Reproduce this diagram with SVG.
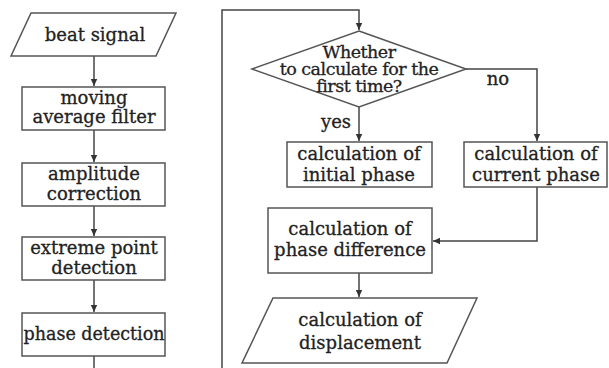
<svg xmlns="http://www.w3.org/2000/svg" width="609" height="368" viewBox="0 0 609 368">
<defs>
<marker id="ah" markerWidth="8" markerHeight="8" refX="7" refY="4" orient="auto" markerUnits="userSpaceOnUse">
<path d="M0,0.8 L7,4 L0,7.2 Z" fill="#333"/>
</marker>
<style>
.s{fill:#fff;stroke:#555;stroke-width:1.5}
.c{fill:none;stroke:#444;stroke-width:1.5}
text{font-family:"DejaVu Serif","Liberation Serif",serif;font-size:18px;fill:#222;stroke:#222;stroke-width:0.3;text-anchor:middle}
.d{font-size:17.5px;letter-spacing:-0.5px}
</style>
</defs>
<rect width="609" height="368" fill="#fff"/>
<g id="connectors">
<line class="c" x1="94" y1="56" x2="94" y2="86" marker-end="url(#ah)"/>
<line class="c" x1="94" y1="130" x2="94" y2="162" marker-end="url(#ah)"/>
<line class="c" x1="94" y1="206" x2="94" y2="236" marker-end="url(#ah)"/>
<line class="c" x1="94" y1="280" x2="94" y2="312" marker-end="url(#ah)"/>
<line class="c" x1="94" y1="356" x2="94" y2="368"/>
<polyline class="c" points="222,368 222,10 359,10 359,30" marker-end="url(#ah)"/>
<line class="c" x1="359" y1="107" x2="359" y2="141" marker-end="url(#ah)"/>
<polyline class="c" points="466,69 537,69 537,141" marker-end="url(#ah)"/>
<polyline class="c" points="537,187 537,241 433,241" marker-end="url(#ah)"/>
<line class="c" x1="359" y1="273" x2="359" y2="297" marker-end="url(#ah)"/>
<text x="336" y="128">yes</text>
<text x="498" y="85">no</text>
</g>
<g id="beat">
<polygon class="s" points="31,13 176,13 156,56 11,56"/>
<text x="95" y="41">beat signal</text>
</g>
<g id="maf">
<rect class="s" x="22" y="87" width="143" height="43"/>
<text x="94" y="104">moving</text>
<text x="94" y="123">average filter</text>
</g>
<g id="amp">
<rect class="s" x="22" y="163" width="143" height="43"/>
<text x="94" y="180">amplitude</text>
<text x="94" y="200">correction</text>
</g>
<g id="ext">
<rect class="s" x="22" y="237" width="143" height="43"/>
<text x="94" y="254">extreme point</text>
<text x="94" y="274">detection</text>
</g>
<g id="phd">
<rect class="s" x="22" y="313" width="143" height="43"/>
<text x="94" y="340" textLength="141" lengthAdjust="spacingAndGlyphs">phase detection</text>
</g>
<g id="decision">
<polygon class="s" points="359,31 466,69 359,107 252,69"/>
<text class="d" x="359" y="58">Whether</text>
<text class="d" x="359" y="75">to calculate for the</text>
<text class="d" x="359" y="92">first time?</text>
</g>
<g id="initial">
<rect class="s" x="287" y="142" width="145" height="45"/>
<text x="359" y="160">calculation of</text>
<text x="359" y="181">initial phase</text>
</g>
<g id="current">
<rect class="s" x="464" y="142" width="143" height="45"/>
<text x="536" y="160">calculation of</text>
<text x="536" y="181">current phase</text>
</g>
<g id="diff">
<rect class="s" x="268" y="208" width="164" height="65"/>
<text x="350" y="235">calculation of</text>
<text x="350" y="256">phase difference</text>
</g>
<g id="disp">
<polygon class="s" points="273,298 477,298 447,363 242,363"/>
<text x="360" y="326">calculation of</text>
<text x="360" y="349">displacement</text>
</g>
</svg>
